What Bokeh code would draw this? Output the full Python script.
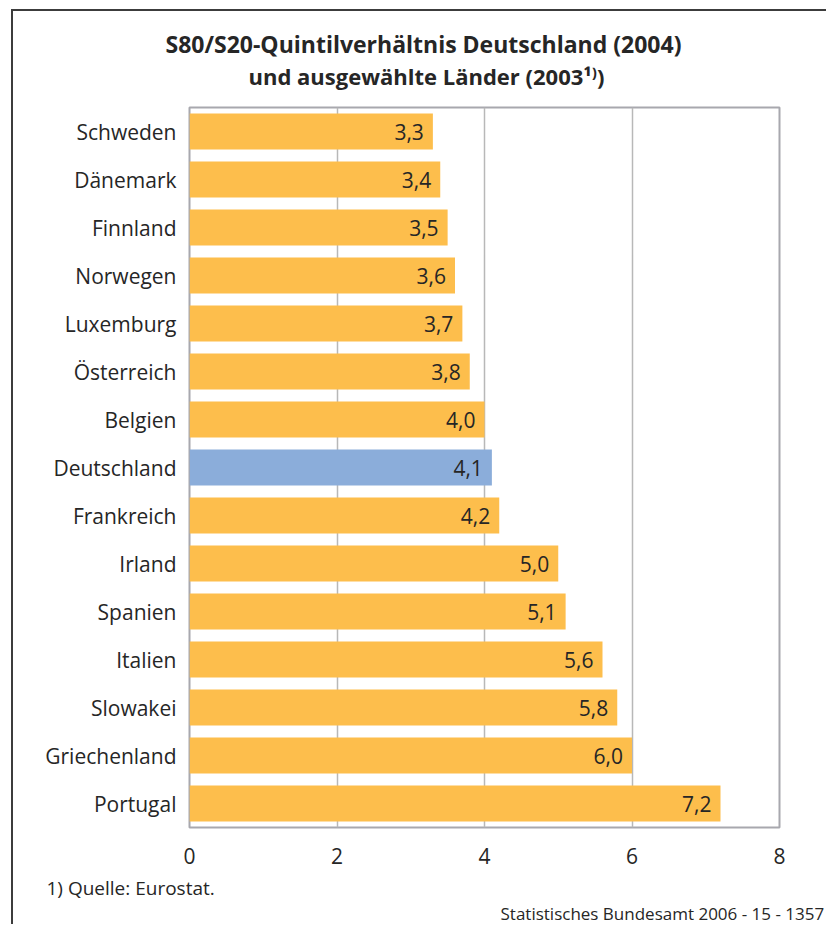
from bokeh.plotting import figure
from bokeh.models import FactorRange, Range1d, ColumnDataSource, FixedTicker, Title
from bokeh.embed import file_html
from bokeh.resources import INLINE
from bokeh.core.properties import value

countries = ["Schweden", "Dänemark", "Finnland", "Norwegen", "Luxemburg", "Österreich",
             "Belgien", "Deutschland", "Frankreich", "Irland", "Spanien", "Italien",
             "Slowakei", "Griechenland", "Portugal"]
ratios = [3.3, 3.4, 3.5, 3.6, 3.7, 3.8, 4.0, 4.1, 4.2, 5.0, 5.1, 5.6, 5.8, 6.0, 7.2]
x_ticks = [0, 2, 4, 6, 8]
title_1 = "S80/S20-Quintilverhältnis Deutschland (2004)"
title_2 = "und ausgewählte Länder (2003¹⁾)"
footnote = "1) Quelle: Eurostat."
source_note = "Statistisches Bundesamt 2006 - 15 - 1357"

ORANGE = "#FDBE4C"
BLUE = "#8BADDA"
FONT = "Open Sans"
TXT = "#262626"

colors = [BLUE if c == "Deutschland" else ORANGE for c in countries]
labels = [f"{v:.1f}".replace(".", ",") for v in ratios]
src = ColumnDataSource(dict(c=countries, v=ratios, col=colors, lab=labels))

p = figure(width=815, height=915, output_backend="svg", toolbar_location=None, title=None,
           y_range=FactorRange(factors=list(reversed(countries)), range_padding=0),
           x_range=Range1d(0, 8),
           min_border_left=176, min_border_right=49, min_border_top=96, min_border_bottom=99,
           styles={"margin-left": "11px", "margin-top": "9px",
                   "border-left": "2px solid #3C3C3C", "border-top": "2px solid #3C3C3C"})

p.hbar(y="c", right="v", left=0, height=0.75, fill_color="col", line_color=None, source=src)
p.text(x="v", y="c", text="lab", source=src, text_align="right", text_baseline="middle",
       x_offset=-9, text_font=value(FONT), text_font_size="21px", text_color=TXT)

p.outline_line_color = "#A8A8AE"
p.outline_line_width = 2
p.ygrid.grid_line_color = None
p.xgrid.grid_line_color = "#B8B8B8"
p.xgrid.grid_line_width = 1.5
p.xaxis.ticker = FixedTicker(ticks=x_ticks)
for ax in (p.xaxis, p.yaxis):
    ax.axis_line_color = None
    ax.major_tick_line_color = None
    ax.minor_tick_line_color = None
    ax.major_tick_out = 0
    ax.major_label_text_font = FONT
    ax.major_label_text_font_size = "21px"
    ax.major_label_text_color = TXT
p.xaxis.major_label_standoff = 20
p.yaxis.major_label_standoff = 13

p.add_layout(Title(text=title_2, align="left", offset=59, text_font=FONT,
                   text_font_size="22px", text_font_style="bold", text_color=TXT,
                   standoff=33), "above")
p.add_layout(Title(text=title_1, align="left", offset=-24, text_font=FONT,
                   text_font_size="23px", text_font_style="bold", text_color=TXT,
                   standoff=-34), "above")
p.add_layout(Title(text=footnote, align="left", offset=-143, text_font=FONT,
                   text_font_size="19px", text_font_style="normal", text_color=TXT,
                   standoff=13), "below")
p.add_layout(Title(text=source_note, align="left", offset=311, text_font=FONT,
                   text_font_size="17px", text_font_style="normal", text_color=TXT,
                   standoff=-16), "below")

open("out.html", "w").write(file_html(p, INLINE))
